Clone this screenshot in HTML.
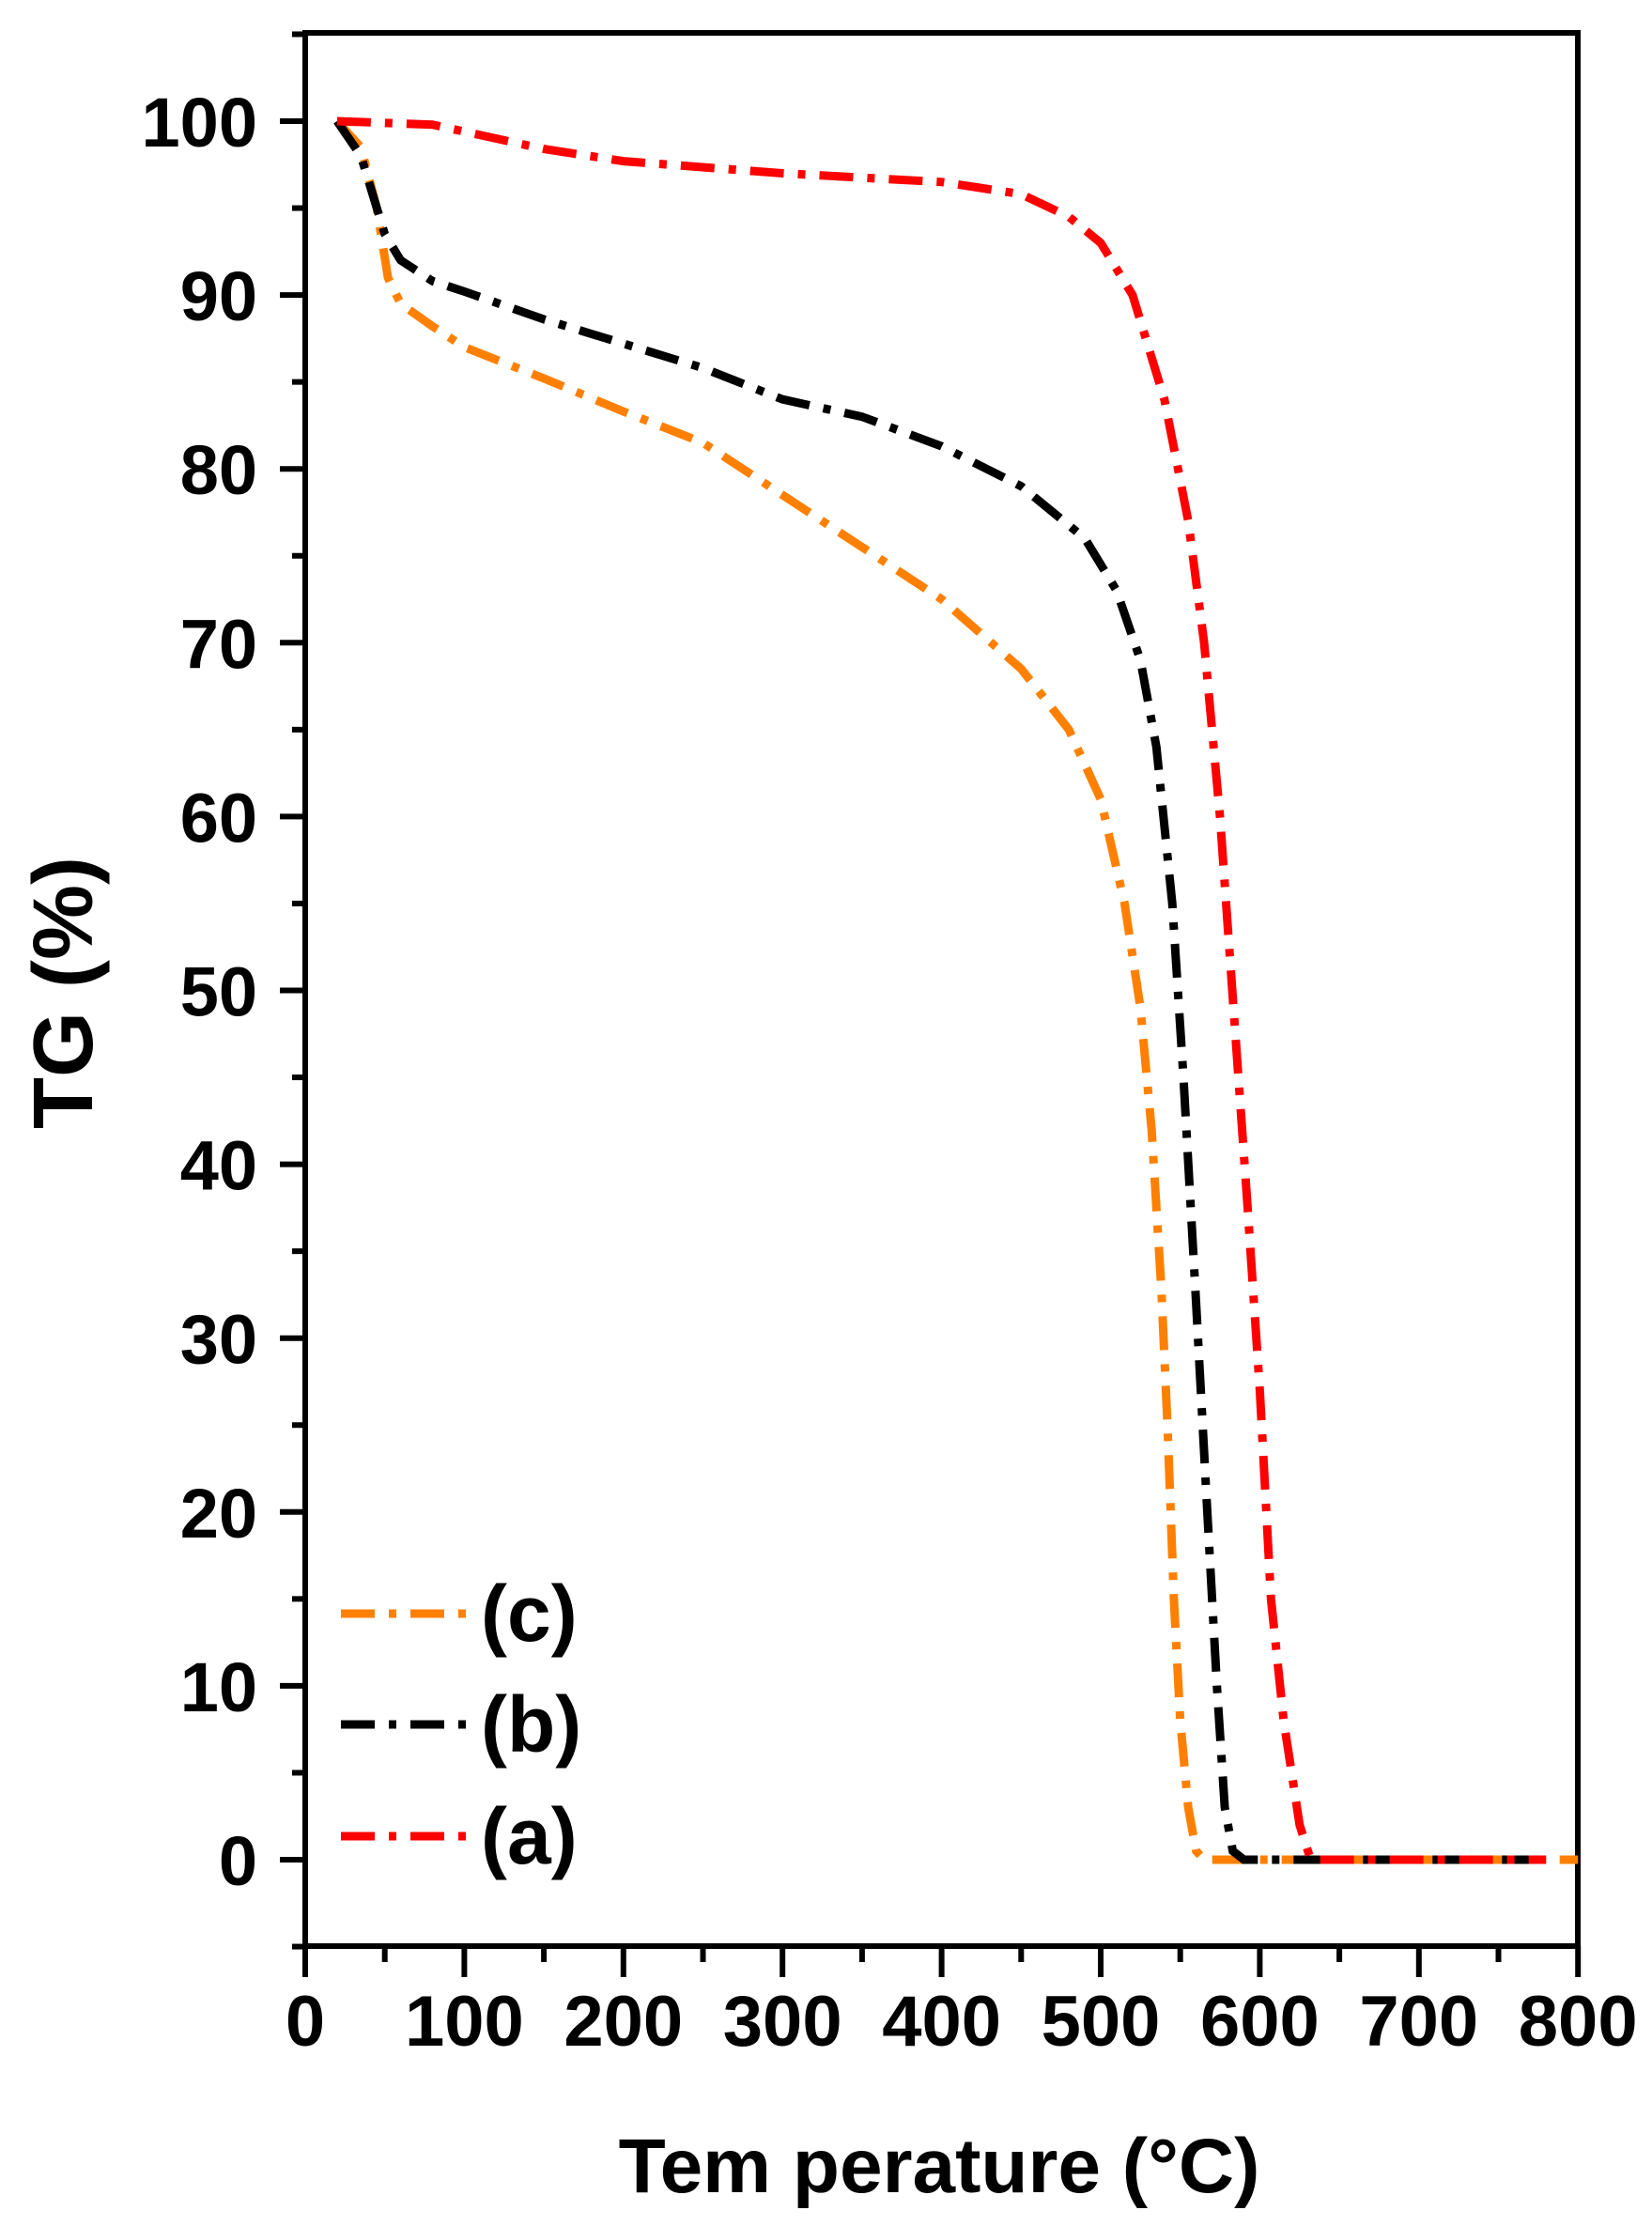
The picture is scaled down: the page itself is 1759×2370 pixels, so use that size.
<!DOCTYPE html>
<html><head><meta charset="utf-8"><style>
html,body{margin:0;padding:0;background:#fff}
svg{display:block}
text{font-family:"Liberation Sans",Arial,sans-serif;font-weight:bold;fill:#000}
</style></head><body>
<svg id="s" width="1759" height="2370" viewBox="0 0 1759 2370" xmlns="http://www.w3.org/2000/svg">
<g id="ticks" stroke="#000" stroke-width="6"></g>
<rect x="325" y="35" width="1355" height="2037" fill="none" stroke="#000" stroke-width="6"/>
<g id="curves" fill="none" stroke-width="9" stroke-dasharray="36 15 8 15"></g>
<g font-size="74" text-anchor="end" id="ylab"></g>
<g font-size="76" text-anchor="middle" id="xlab"></g>
<text x="1000" y="2334" font-size="82" text-anchor="middle">Tem perature (°C)</text>
<text transform="translate(98,1057) rotate(-90)" font-size="90" text-anchor="middle">TG (%)</text>
<g fill="none" stroke-width="9" stroke-dasharray="36 15 8 15">
<line x1="363" y1="1718" x2="497" y2="1718" stroke="#FF8000"/>
<line x1="363" y1="1836" x2="497" y2="1836" stroke="#000"/>
<line x1="363" y1="1955" x2="497" y2="1955" stroke="#FF0000"/>
</g>
<g font-size="84">
<text x="512" y="1747">(c)</text>
<text x="512" y="1865">(b)</text>
<text x="512" y="1984">(a)</text>
</g>
</svg>
<script>
var NS="http://www.w3.org/2000/svg";
function X(t){return 325+1.694*t}
function Y(v){return 1980-18.51*v}
var tk=document.getElementById('ticks'),yl=document.getElementById('ylab'),xl=document.getElementById('xlab');
function ln(p,x1,y1,x2,y2){var l=document.createElementNS(NS,'line');l.setAttribute('x1',x1);l.setAttribute('y1',y1);l.setAttribute('x2',x2);l.setAttribute('y2',y2);p.appendChild(l);}
function tx(p,x,y,s){var t=document.createElementNS(NS,'text');t.setAttribute('x',x);t.setAttribute('y',y);t.textContent=s;p.appendChild(t);}
for(var v=-5;v<=105;v+=5){var y=Y(v);var maj=(v%10===0)&&v>=0&&v<=100;ln(tk,maj?298:311,y,325,y);if(maj)tx(yl,274,y+27,String(v));}
for(var t=0;t<=800;t+=50){var x=X(t);var maj=t%100===0;ln(tk,x,2072,x,maj?2105:2089);if(maj)tx(xl,x,2178,String(t));}
var data={
"#FF0000":[[20,100],[80,99.8],[100,99.4],[150,98.4],[200,97.7],[300,97],[400,96.5],[450,95.8],[480,94.5],[500,93],[520,90],[540,84],[555,77],[565,70],[575,60],[585,47],[592,38],[600,27],[607,15],[615,8],[625,2],[632,0],[780,0]],
"#000000":[[20,100],[35,98],[50,93.5],[60,92],[80,90.8],[100,90.2],[150,88.6],[200,87.2],[250,85.8],[300,84],[350,83],[400,81.3],[450,79],[490,76],[510,73],[525,69],[535,64],[545,55],[552,45],[560,32],[567,20],[573,10],[578,3],[583,0.5],[590,0],[780,0]],
"#FF8000":[[20,100],[35,98.5],[45,95],[52,91],[60,89.5],[80,88.2],[100,87],[150,85.2],[200,83.3],[250,81.5],[300,78.5],[350,75.5],[400,72.5],[450,68.5],[480,65],[500,61],[515,55],[525,49],[532,42],[538,33],[542,25],[546,15],[550,8],[555,3],[560,0.5],[565,0],[800,0]]};
var cg=document.getElementById('curves');
["#FF8000","#000000","#FF0000"].forEach(function(c){var p=document.createElementNS(NS,'polyline');p.setAttribute('stroke',c);p.setAttribute('points',data[c].map(function(d){return X(d[0]).toFixed(1)+","+Y(d[1]).toFixed(1)}).join(" "));cg.appendChild(p);});
</script>
</body></html>
